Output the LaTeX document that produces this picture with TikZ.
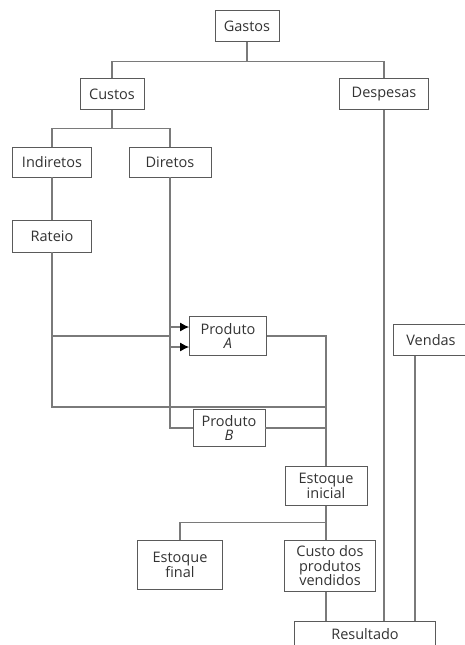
\documentclass[tikz,border=0pt]{standalone}
\usepackage{fontspec}
\setmainfont{Open Sans}
\usetikzlibrary{arrows.meta}
\definecolor{cgLine}{HTML}{7A7A7A}
\definecolor{cgBox}{HTML}{5A5A5A}
\definecolor{cgText}{HTML}{333333}

\begin{document}
\begin{tikzpicture}[x=1pt, y=-1pt,
    box/.style={draw=cgBox, line width=0.8pt, fill=white, text=cgText, inner sep=1pt, align=center, font=\fontsize{14.5}{14.5}\selectfont},
    link/.style={draw=cgLine, line width=1.1pt},
    arrow/.style={link, -{Latex[length=9pt,width=9pt,color=black]}}
]
    \useasboundingbox (0,0) rectangle (465,645);
    \clip (0,0) rectangle (465,645);

    % Top levels
    \node[box, minimum width=64pt, minimum height=31pt] (gastos) at (247,26) {Gastos};
    \node[box, minimum width=64pt, minimum height=31pt] (custos) at (112,94) {Custos};
    \node[box, minimum width=89pt, minimum height=31pt] (despesas) at (384,94) {Despesas};
    \node[box, minimum width=79pt, minimum height=30pt] (indiretos) at (52,162) {Indiretos};
    \node[box, minimum width=82pt, minimum height=30pt] (diretos) at (170,162) {Diretos};
    \node[box, minimum width=79pt, minimum height=32pt] (rateio) at (52,236) {Rateio};

    % Products
    \node[box, minimum width=77pt, minimum height=39pt] (prodA) at (228,336) {Produto\\\textit{A}};
    \node[box, minimum width=72pt, minimum height=37pt] (prodB) at (229,428) {Produto\\\textit{B}};
    \node[box, minimum width=76pt, minimum height=31pt] (vendas) at (431,340) {Vendas};

    % Stock and result
    \node[box, minimum width=82pt, minimum height=39pt] (einicial) at (326,486) {Estoque\\inicial};
    \node[box, minimum width=85pt, minimum height=49pt] (efinal) at (180,565) {Estoque\\final};
    \node[box, minimum width=91pt, minimum height=51pt] (custo) at (330,566) {Custo dos\\produtos\\vendidos};
    \node[box, minimum width=141pt, minimum height=25pt] (resultado) at (365,634) {Resultado};

    % Tree lines
    \draw[link] (gastos.south) -- ++(0,20) coordinate (g1);
    \draw[link] (custos.north) |- (g1) -| (despesas.north);
    \draw[link] (custos.south) -- ++(0,19) coordinate (c1);
    \draw[link] (indiretos.north) |- (c1) -| (diretos.north);
    \draw[link] (indiretos) -- (rateio);

    % Cost flow
    \coordinate (jA) at (diretos.south |- prodA.west);
    \coordinate (merge) at (einicial.north |- 0,407);
    \draw[link] (rateio.south) |- (merge);
    \draw[link] (rateio.south |- prodA.west) -- (jA);
    \draw[link] (diretos.south) |- (prodB.west);
    \draw[arrow] ([yshift=9pt]jA) -- ([yshift=9pt]prodA.west);
    \draw[arrow] ([yshift=-11pt]jA) -- ([yshift=-11pt]prodA.west);
    \draw[link] (prodA.east) -| (einicial.north);
    \draw[link] (prodB.east) -- (prodB.east -| einicial.north);

    % Stock lines
    \draw[link] (einicial.south) -- ++(0,17) coordinate (e1);
    \draw[link] (efinal.north) |- (e1) -- (e1 |- custo.north);
    \draw[link] (e1 |- custo.south) -- (e1 |- resultado.north);
    \draw[link] (despesas.south) -- (despesas.south |- resultado.north);
    \path ([xshift=-16pt]vendas.south) coordinate (v1);
    \draw[link] (v1) -- (v1 |- resultado.north);
\end{tikzpicture}
\end{document}
